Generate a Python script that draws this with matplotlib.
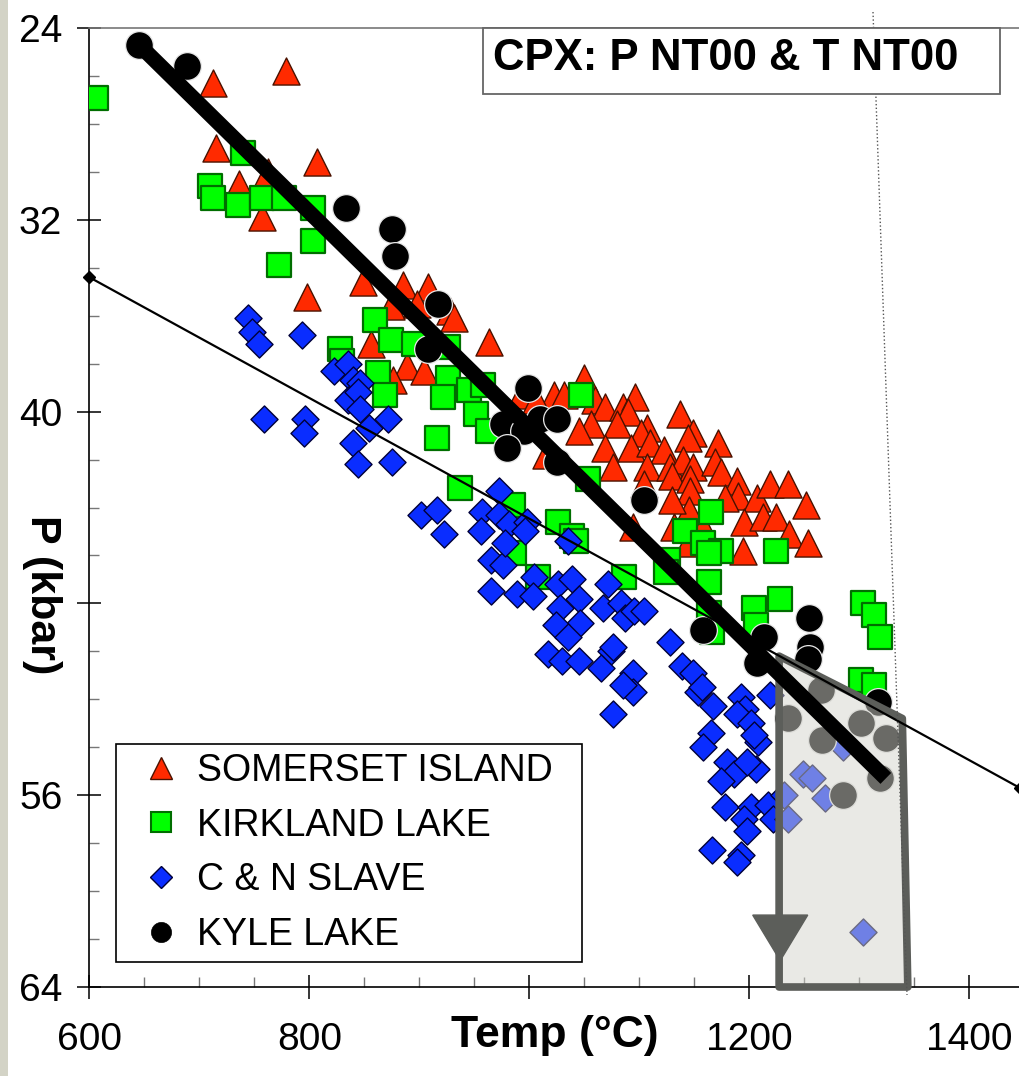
import matplotlib
matplotlib.use("Agg")
import matplotlib.pyplot as plt
from matplotlib.patches import Polygon, Rectangle
from matplotlib.lines import Line2D
from matplotlib.ticker import MultipleLocator, FixedLocator, FixedFormatter

plt.rcParams['font.family'] = ['Liberation Sans', 'DejaVu Sans']

# ---------------- data ----------------
somerset_T = [712, 779, 715, 807, 736, 757, 762, 849, 798, 885, 908, 874, 898, 928, 856, 931, 963,
              889, 904, 876, 1022, 1031, 1050, 1060, 1069, 1085, 1096, 1090, 1080, 1056, 1045, 1107,
              1101, 1137, 1149, 1144, 1171, 1069, 1092, 1110, 1122, 1076, 1107, 1128, 1140, 1149, 1169,
              1174, 1130, 1146, 1104, 1146, 1189, 1190, 1178, 1207, 1219, 1235, 1251, 1145, 1195, 1212,
              1224, 1236, 1253, 1194, 1094, 1131, 1144, 1158, 1130, 992, 1006, 1015]
somerset_P = [26.3, 25.8, 29.0, 29.6, 30.5, 31.9, 30.0, 34.6, 35.2, 34.7, 34.8, 35.6, 35.5, 35.8, 37.2, 36.1, 37.1,
              38.1, 38.3, 38.7, 39.3, 39.3, 38.6, 39.5, 39.8, 39.8, 39.4, 40.0, 40.5, 40.5, 40.8, 40.7,
              40.9, 40.1, 40.9, 41.1, 41.3, 41.5, 41.5, 41.3, 41.6, 42.3, 42.3, 42.3, 42.0, 42.3, 42.1,
              42.5, 42.7, 42.8, 43.0, 43.3, 42.9, 43.5, 43.6, 43.6, 43.0, 43.0, 43.9, 44.1, 44.6, 44.4,
              44.4, 45.1, 45.5, 45.8, 44.8, 44.8, 45.5, 44.8, 43.7, 39.3, 39.5, 41.8]

kirkland_T = [606, 740, 710, 712, 735, 757, 777, 803, 803, 772, 860, 874, 895, 828, 830, 862, 869,
              926, 926, 921, 945, 958, 951, 916, 962, 937, 985, 986, 1026, 1008, 1047, 1053, 1039,
              1042, 1086, 1165, 1141, 1158, 1174, 1163, 1126, 1124, 1163, 1224, 1228, 1204, 1163,
              1166, 1206, 1303, 1313, 1319, 1301, 1313]
kirkland_P = [26.9, 29.2, 30.6, 31.1, 31.4, 31.1, 31.1, 31.5, 32.9, 33.9, 36.2, 37.0, 37.2, 37.4, 37.9, 38.4, 39.3,
              37.3, 38.6, 39.4, 39.1, 38.9, 40.1, 41.1, 40.8, 43.2, 43.9, 45.9, 44.6, 46.9, 39.3, 42.8, 45.2,
              45.4, 46.9, 44.2, 45.0, 45.5, 45.8, 45.9, 46.2, 46.7, 47.1, 45.8, 47.8, 48.2, 48.4,
              49.2, 48.9, 48.0, 48.5, 49.4, 51.2, 51.4]

slave_T = [744, 748, 754, 793, 822, 835, 840, 846, 835, 844, 846, 759, 796, 795, 854, 840, 871, 844, 875,
           901, 916, 922, 972, 957, 972, 956, 981, 998, 996, 965, 976, 1004, 1035, 978, 965, 989, 1003,
           1026, 1039, 1028, 1045, 1046, 1024, 1035, 1017, 1030, 1045, 1071, 1067, 1083, 1087, 1095,
           1074, 1065, 1076, 1094, 1094, 1085, 1076, 1128, 1139, 1149, 1153, 1104, 1157, 1167, 1192,
           1196, 1189, 1201, 1219, 1165, 1158, 1208, 1204, 1180, 1186, 1174, 1206, 1198, 1178, 1201,
           1195, 1217, 1221, 1198, 1166, 1192, 1189, 1285, 1249, 1257, 1269, 1231, 1235, 1303]
slave_P = [36.1, 36.7, 37.2, 36.8, 38.3, 38.0, 38.7, 38.8, 39.5, 39.2, 39.9, 40.3, 40.3, 40.9, 40.7, 41.3, 40.3, 42.2, 42.1,
           44.3, 44.1, 45.1, 43.3, 44.2, 44.3, 45.0, 44.7, 44.6, 45.0, 46.2, 46.4, 46.9, 45.4, 45.5, 47.5, 47.6, 47.7,
           47.2, 47.0, 48.2, 47.8, 48.8, 48.9, 49.4, 50.1, 50.4, 50.4, 47.2, 48.2, 48.0, 48.6, 48.3,
           50.0, 50.7, 49.8, 50.9, 51.7, 51.4, 52.6, 49.6, 50.6, 50.9, 51.7, 48.3, 51.5, 52.3, 51.9,
           52.4, 52.6, 53.0, 51.8, 53.4, 54.0, 53.8, 53.5, 54.6, 55.1, 55.4, 54.9, 54.6, 56.5, 56.5,
           57.0, 56.4, 57.0, 57.5, 58.3, 58.5, 58.8, 54.0, 55.1, 55.3, 56.1, 56.0, 57.0, 61.7]

kyle_T = [645, 689, 833, 875, 878, 917, 908, 999, 976, 995, 1010, 1025, 980, 1025, 1104, 1158, 1213,
          1207, 1254, 1255, 1253, 1317, 1235, 1266, 1301, 1324, 1285, 1319, 1265]
kyle_P = [24.7, 25.6, 31.5, 32.4, 33.5, 35.5, 37.4, 39.0, 40.5, 40.8, 40.3, 40.3, 41.5, 42.1, 43.7, 49.1, 49.4,
          50.5, 48.6, 49.8, 50.3, 52.1, 52.8, 53.7, 53.0, 53.6, 56.0, 55.3, 51.6]

# fitted / reference lines
thick_T = [645, 1324]
thick_P = [24.7, 55.3]
thin_T = [600, 1446]
thin_P = [34.4, 55.7]

# shaded field (arrow)
field_T = [1227, 1339, 1344, 1227]
field_P = [50.2, 52.8, 64.0, 64.0]
arrow_T = [1203, 1253, 1228]
arrow_P = [61.0, 61.0, 62.9]

labels = ['SOMERSET ISLAND', 'KIRKLAND LAKE', 'C & N SLAVE', 'KYLE LAKE']
x_ticks = [600, 800, 1000, 1200, 1400]
x_ticklabels = ['600', '800', '', '1200', '1400']
y_ticks = [24, 32, 40, 48, 56, 64]
y_ticklabels = ['24', '32', '40', '', '56', '64']

# ---------------- figure ----------------
W, H = 1020, 1076
fig = plt.figure(figsize=(W / 100, H / 100), dpi=100)
fig.patch.set_facecolor('white')
ax = fig.add_axes([89.5 / W, 1 - 987 / H, 1 - 89.5 / W, (987 - 28) / H])

RED = '#ff2a00'
GREEN = '#00ff00'
BLUE = '#0a2dff'

ax.scatter(somerset_T, somerset_P, marker='^', s=380, c=RED, edgecolors='#4a1200', linewidths=1.0, zorder=3)
ax.scatter(kirkland_T, kirkland_P, marker='s', s=300, c=GREEN, edgecolors='#006e00', linewidths=1.6, zorder=4)
ax.scatter(slave_T, slave_P, marker='D', s=190, c=BLUE, edgecolors='#00003a', linewidths=1.0, zorder=5)
ax.scatter(kyle_T, kyle_P, marker='o', s=400, c='black', edgecolors='#e8e8e8', linewidths=0.9, zorder=6)

# shaded field
field = Polygon(list(zip(field_T, field_P)), closed=True, facecolor=(0.83, 0.83, 0.80, 0.5),
                edgecolor='#5c5e5a', linewidth=5.5, joinstyle='round', zorder=7, clip_on=False)
ax.add_patch(field)
ax.add_patch(Polygon(list(zip(arrow_T, arrow_P)), closed=True, facecolor='#5c5e5a',
                     edgecolor='#5c5e5a', linewidth=1, zorder=7.5, clip_on=False))

ax.plot(thin_T, thin_P, color='black', lw=1.6, marker='D', ms=6, zorder=8, clip_on=False)
ax.plot(thick_T, thick_P, color='black', lw=11, solid_capstyle='butt', zorder=9)

ax.set_xlim(600, 1446)
ax.set_ylim(64, 24)

ax.xaxis.set_major_locator(FixedLocator(x_ticks))
ax.xaxis.set_major_formatter(FixedFormatter(x_ticklabels))
ax.xaxis.set_minor_locator(MultipleLocator(50))
ax.yaxis.set_major_locator(FixedLocator(y_ticks))
ax.yaxis.set_major_formatter(FixedFormatter(y_ticklabels))
ax.yaxis.set_minor_locator(MultipleLocator(2))

ax.tick_params(which='major', direction='inout', length=17, width=1.1, color='black', labelsize=28)
ax.tick_params(axis='y', which='major', pad=11)
ax.tick_params(axis='x', which='major', pad=17)
ax.tick_params(which='minor', direction='in', length=7, width=1.0, color='#777777')

for side in ['left', 'bottom']:
    ax.spines[side].set_color('black')
    ax.spines[side].set_linewidth(1.2)
ax.spines['top'].set_color('#777777')
ax.spines['top'].set_linewidth(1.2)
ax.spines['right'].set_visible(False)

# legend
handles = [
    Line2D([], [], ls='none', marker='^', ms=16.5, mfc=RED, mec='#4a1200', mew=1.0),
    Line2D([], [], ls='none', marker='s', ms=15, mfc=GREEN, mec='#006e00', mew=1.5),
    Line2D([], [], ls='none', marker='D', ms=11.5, mfc=BLUE, mec='#00003a', mew=1.0),
    Line2D([], [], ls='none', marker='o', ms=14.5, mfc='black', mec='black', mew=0.5),
]
leg = ax.legend(handles, labels, loc='lower left', bbox_to_anchor=(27 / 930.5, 25 / 959, 466 / 930.5, 0.2),
                mode='expand', borderaxespad=0, fontsize=27, frameon=True, fancybox=False,
                edgecolor='black', framealpha=1, handlelength=1.9, handletextpad=0.0,
                borderpad=0.24, labelspacing=0.5)
leg.get_frame().set_linewidth(1.2)
leg.set_zorder(10)

# axis labels
fig.text(555 / W, 1 - 1035 / H, 'Temp (°C)', ha='center', va='center', fontsize=32, fontweight='bold')
fig.text(42 / W, 1 - 595 / H, 'P (kbar)', ha='center', va='center', rotation=-90, fontsize=31,
         fontweight='bold')

# title box
fig.add_artist(Rectangle((483 / W, 1 - 94 / H), (1000 - 483) / W, 66 / H, transform=fig.transFigure,
                         facecolor='white', edgecolor='#666666', linewidth=1.3, zorder=20))
fig.text(493 / W, 1 - 59 / H, 'CPX: P NT00 & T NT00', ha='left', va='center', fontsize=31.5,
         fontweight='bold', zorder=21)

# slide decorations
fig.add_artist(Line2D([873 / W, 907 / W], [1 - 12 / H, 1 - 995 / H], transform=fig.transFigure,
                      color='#555555', lw=1.0, ls=':', zorder=15))
fig.add_artist(Rectangle((0, 0), 8 / W, 1, transform=fig.transFigure, facecolor='#d3d3c6',
                         edgecolor='none', zorder=30))

fig.savefig('out.png', dpi=100, facecolor='white')
